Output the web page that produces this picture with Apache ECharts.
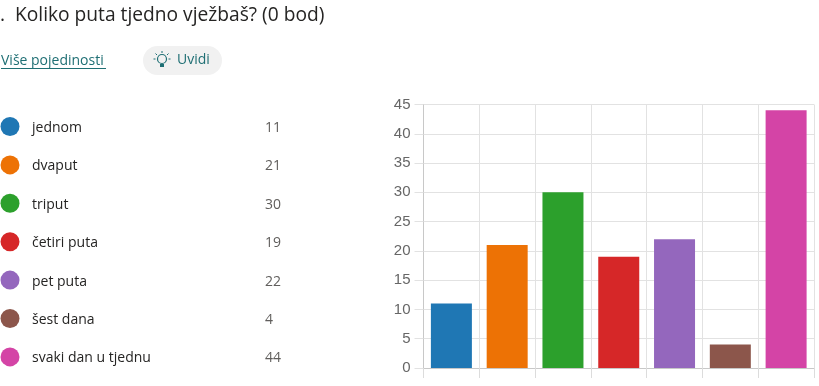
<!DOCTYPE html>
<html><head><meta charset="utf-8">
<style>html,body{margin:0;padding:0;background:#fff}#c{width:819px;height:386px}</style>
<script src="https://cdn.jsdelivr.net/npm/echarts@6/dist/echarts.min.js"></script>
</head><body><div id="c"></div>
<script>
const categories = ['jednom','dvaput','triput','četiri puta','pet puta','šest dana','svaki dan u tjednu'];
const values = [11,21,30,19,22,4,44];
const colors = ['#1f77b4','#ed7205','#2ca02c','#d62728','#9467bd','#8c564b','#d444a6'];
const titleText = '.  Koliko puta tjedno vježbaš? (0 bod)';
const linkText = 'Više pojedinosti';
const chipText = 'Uvidi';

const font = '"Open Sans","Noto Sans",sans-serif';
const teal = '#1f6f74';
const graphic = [
  {type:'text',left:0,top:6,style:{text:titleText,font:'19.2px '+font,fill:'#252423'}},
  {type:'text',left:1,top:54,style:{text:linkText,font:'14px '+font,fill:teal}},
  {type:'rect',shape:{x:1,y:68,width:105,height:1},style:{fill:teal}},
  {type:'rect',shape:{x:143,y:46,width:79,height:29,r:14.5},style:{fill:'#f1f1f1'}},
  {type:'text',left:177,top:53,style:{text:chipText,font:'14px '+font,fill:teal}},
  {type:'circle',shape:{cx:162,cy:59,r:4.5},style:{fill:'none',stroke:teal,lineWidth:1.2}},
  {type:'rect',shape:{x:160,y:64,width:4,height:3},style:{fill:teal}}
];
[[162,51,162,53],[155.5,53.5,157,55],[168.5,53.5,167,55],[153.5,59,155.5,59],[170.5,59,168.5,59]].forEach(l=>{
  graphic.push({type:'line',shape:{x1:l[0],y1:l[1],x2:l[2],y2:l[3]},style:{stroke:teal,lineWidth:1}});
});
categories.forEach((name,i)=>{
  const y = 126.5 + i*38.4;
  graphic.push({type:'circle',shape:{cx:10,cy:y,r:9.5},style:{fill:colors[i]}});
  graphic.push({type:'text',x:32,y:y+1.5,style:{text:name,font:'14px '+font,fill:'#252423',textVerticalAlign:'middle'}});
  graphic.push({type:'text',x:265,y:y+1.5,style:{text:String(values[i]),font:'14px '+font,fill:'#605e5c',textVerticalAlign:'middle'}});
});

const chart = echarts.init(document.getElementById('c'),null,{renderer:'canvas'});
chart.setOption({
  animation:false,
  graphic:graphic,
  grid:{left:423.5,right:5,top:104.5,bottom:18,containLabel:false},
  xAxis:{type:'category',data:categories,
    axisLine:{lineStyle:{color:'#c8c8c8',width:1}},
    axisTick:{show:true,length:10,interval:0,lineStyle:{color:'#dcdcdc'}},
    axisLabel:{show:false},
    splitLine:{show:true,interval:0,lineStyle:{color:'#e2e2e2',width:1}}},
  yAxis:{type:'value',min:0,max:45,interval:5,
    axisLine:{show:true,lineStyle:{color:'#c8c8c8',width:1}},
    axisTick:{show:true,length:9,lineStyle:{color:'#e2e2e2'}},
    axisLabel:{color:'#666',fontSize:15,fontFamily:'"Liberation Sans",Arial,sans-serif',margin:13},
    splitLine:{show:true,lineStyle:{color:'#e2e2e2',width:1}}},
  series:[{type:'bar',barWidth:41,
    data:values.map((v,i)=>({value:v,itemStyle:{color:colors[i]}}))}]
});
</script></body></html>
